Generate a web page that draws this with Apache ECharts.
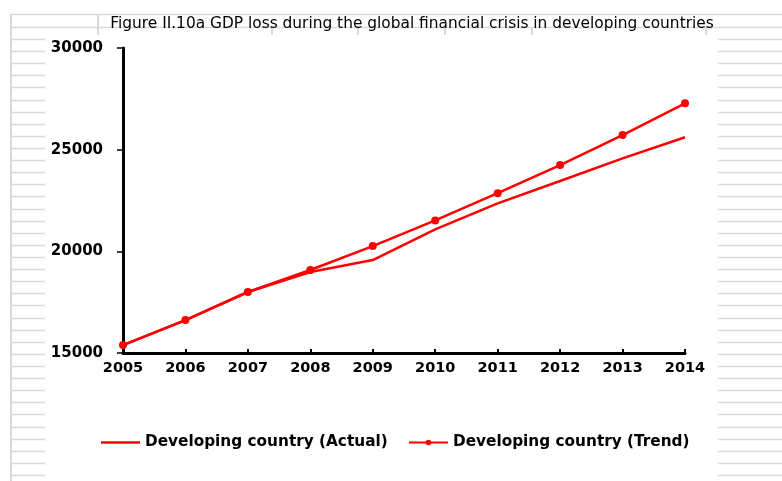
<!DOCTYPE html>
<html><head><meta charset="utf-8">
<script src="https://cdn.jsdelivr.net/npm/echarts@6/dist/echarts.min.js"></script>
<style>html,body{margin:0;padding:0;background:#fff}#c{width:782px;height:481px}</style>
</head><body><div id="c"></div>
<script>
const titleText = 'Figure II.10a GDP loss during the global financial crisis in developing countries';
const years = ['2005','2006','2007','2008','2009','2010','2011','2012','2013','2014'];
const actual = [15390, 16620, 18000, 18980, 19570, 21080, 22360, 23460, 24570, 25610];
const trend  = [15390, 16620, 18000, 19080, 20260, 21520, 22860, 24240, 25720, 27280];
const seriesNames = ['Developing country (Actual)', 'Developing country (Trend)'];

// decorative spreadsheet cell borders
const gridCol = '#d9d9d9';
const deco = [];
for (let k = 0; k <= 36; k++) {
  const y = Math.round(39 + k * 12.11) + 0.5;
  deco.push({type:'line', shape:{x1:11,y1:y,x2:45,y2:y}, style:{stroke:gridCol,lineWidth:1.5}, silent:true, z:-10});
  deco.push({type:'line', shape:{x1:718,y1:y,x2:782,y2:y}, style:{stroke:gridCol,lineWidth:1.5}, silent:true, z:-10});
}
deco.push({type:'line', shape:{x1:11,y1:14,x2:11,y2:481}, style:{stroke:gridCol,lineWidth:2}, silent:true, z:-10});
deco.push({type:'line', shape:{x1:11,y1:14.5,x2:782,y2:14.5}, style:{stroke:gridCol,lineWidth:1.5}, silent:true, z:-10});
deco.push({type:'line', shape:{x1:11,y1:27.5,x2:782,y2:27.5}, style:{stroke:gridCol,lineWidth:1.5}, silent:true, z:-10});
deco.push({type:'line', shape:{x1:98,y1:14,x2:98,y2:35}, style:{stroke:gridCol,lineWidth:2}, silent:true, z:-10});
[272,358,445,532,706].forEach(x => {
  deco.push({type:'line', shape:{x1:x,y1:28,x2:x,y2:35}, style:{stroke:gridCol,lineWidth:2}, silent:true, z:-10});
});

const legendText = {fontFamily:'DejaVu Sans', fontWeight:'bold', fontSize:15.3, color:'#000'};
const chart = echarts.init(document.getElementById('c'), null, {renderer:'canvas'});
chart.setOption({
  backgroundColor:'#fff',
  animation:false,
  graphic: deco,
  title:{
    text:titleText, left:407, textAlign:'center', top:11,
    textStyle:{fontFamily:'DejaVu Sans', fontSize:15.4, fontWeight:'normal', color:'#000'}
  },
  legend:[
    {data:[{name:seriesNames[0], icon:'rect'}], left:101, top:435, padding:0, itemWidth:39, itemHeight:2.5, itemGap:0,
     textStyle:legendText},
    {data:[seriesNames[1]], left:408, top:435, padding:0, itemWidth:39, itemHeight:7, itemGap:0,
     textStyle:legendText}
  ],
  grid:{left:123, right:97, top:48, bottom:128, containLabel:false},
  xAxis:{
    type:'category', data:years, boundaryGap:false,
    axisLine:{lineStyle:{color:'#000', width:3}},
    axisTick:{show:true, inside:true, length:4, lineStyle:{color:'#000', width:2}},
    axisLabel:{fontFamily:'DejaVu Sans', fontWeight:'bold', fontSize:14.5, color:'#000', margin:8}
  },
  yAxis:{
    type:'value', min:15000, max:30000, interval:5000,
    axisLine:{show:true, lineStyle:{color:'#000', width:3}},
    axisTick:{show:true, length:6, lineStyle:{color:'#000', width:1.5}},
    splitLine:{show:false},
    axisLabel:{fontFamily:'DejaVu Sans', fontWeight:'bold', fontSize:15, color:'#000', margin:20,
               formatter: v => String(v)}
  },
  series:[
    {name:seriesNames[0], type:'line', data:actual, showSymbol:false, symbol:'none',
     lineStyle:{color:'#ff0000', width:2.5}, itemStyle:{color:'#ff0000'}},
    {name:seriesNames[1], type:'line', data:trend, symbol:'circle', symbolSize:8,
     lineStyle:{color:'#ff0000', width:2.5}, itemStyle:{color:'#ff0000'}}
  ]
});
</script></body></html>
